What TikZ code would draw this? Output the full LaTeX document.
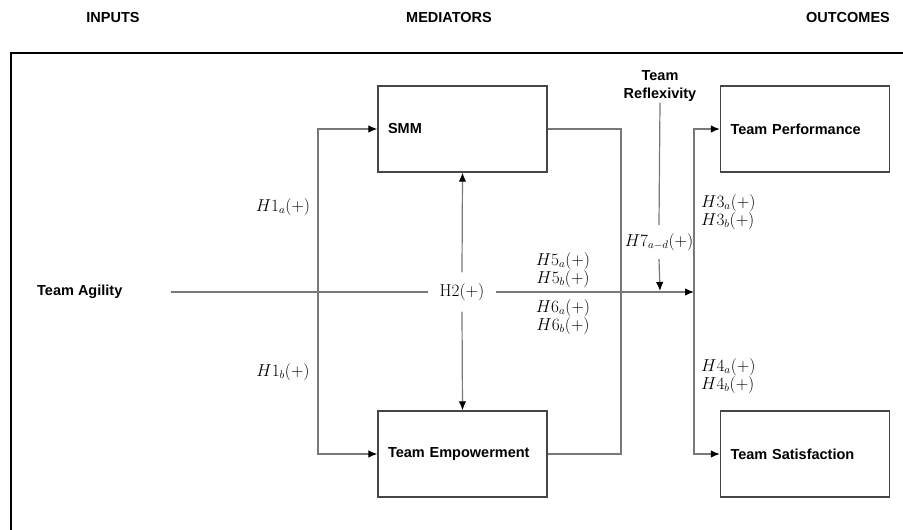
\documentclass[tikz,border=0pt]{standalone}
\usepackage[no-math]{fontspec}
\setmainfont{Liberation Sans}
\usetikzlibrary{arrows.meta}
\definecolor{conncol}{RGB}{120,120,120}
\definecolor{boxcol}{RGB}{70,70,70}
\begin{document}
\begin{tikzpicture}[x=1pt,y=-1pt,
  head/.style={font=\fontsize{14.5}{17}\selectfont\bfseries, inner sep=0pt},
  boxnode/.style={draw=boxcol, line width=1.3pt, minimum height=86pt, text width=149pt,
    inner xsep=10pt, align=left, font=\fontsize{14.5}{17}\selectfont\bfseries},
  lab/.style={font=\fontsize{16}{18}\selectfont, inner sep=0pt},
  conn/.style={draw=conncol, line width=1.2pt},
  arr/.style={conn, -{Latex[length=9pt,width=7.5pt,color=black]}}]
\useasboundingbox (0,0) rectangle (903,530);
% frame
\draw[line width=2.5pt, line cap=rect] (11,535) -- (11,53) -- (910,53);
% headings
\node[head] (hin) at (113,18) {INPUTS};
\node[head] (hmed) at (449,18) {MEDIATORS};
\node[head] (hout) at (848,18) {OUTCOMES};
% boxes
\node[boxnode] (smm) at (462.5,129) {SMM};
\node[boxnode] (te) at (462.5,454) {Team Empowerment};
\node[boxnode] (tp) at (805,129) {Team Performance};
\node[boxnode] (ts) at (805,454) {Team Satisfaction};
% inputs
\node[head, anchor=west] (ag) at (37,292) {Team Agility};
\node[head, align=center, inner sep=1pt] (tr) at (660,86) {Team\\[1pt]Reflexivity};
% labels
\node[font=\fontsize{16.5}{18}\selectfont, inner sep=0pt, minimum width=68pt, minimum height=39pt] (h2) at (462,292) {$\mathrm{H2}(+)$};
\node[lab, minimum height=34pt] (h7) at (659,242) {$H7_{a-d}(+)$};
\node[lab, align=center] (h5) at (563,270) {$H5_a(+)$\\$H5_b(+)$};
\node[lab, align=center] (h6) at (563,317) {$H6_a(+)$\\$H6_b(+)$};
\node[lab] (h1a) at (283,207) {$H1_a(+)$};
\node[lab] (h1b) at (283,372) {$H1_b(+)$};
\node[lab, anchor=west, align=left] (h3) at (701,212) {$H3_a(+)$\\$H3_b(+)$};
\node[lab, anchor=west, align=left] (h4) at (701,376) {$H4_a(+)$\\$H4_b(+)$};
% junction coordinates
\coordinate (ja) at (318,292);
\coordinate (jm) at (621,292);
\coordinate (jz) at (660,291);
\coordinate (jr) at (694,292);
% connectors
\draw[conn] ([xshift=48pt]ag.east) -- (h2.west);
\draw[arr] (h2.east) -- (jr);
\draw[arr] (ja) |- (smm.west);
\draw[arr] (ja) |- (te.west);
\draw[arr] (h2.north) -- (smm.south);
\draw[arr] (h2.south) -- (te.north);
\draw[conn] (smm.east) -| (jm) |- (te.east);
\draw[arr] (jr) |- (tp.west);
\draw[arr] (jr) |- (ts.west);
\draw[conn] (tr.south) -- (h7.north);
\draw[arr] (h7.south) -- (jz);
\end{tikzpicture}
\end{document}
